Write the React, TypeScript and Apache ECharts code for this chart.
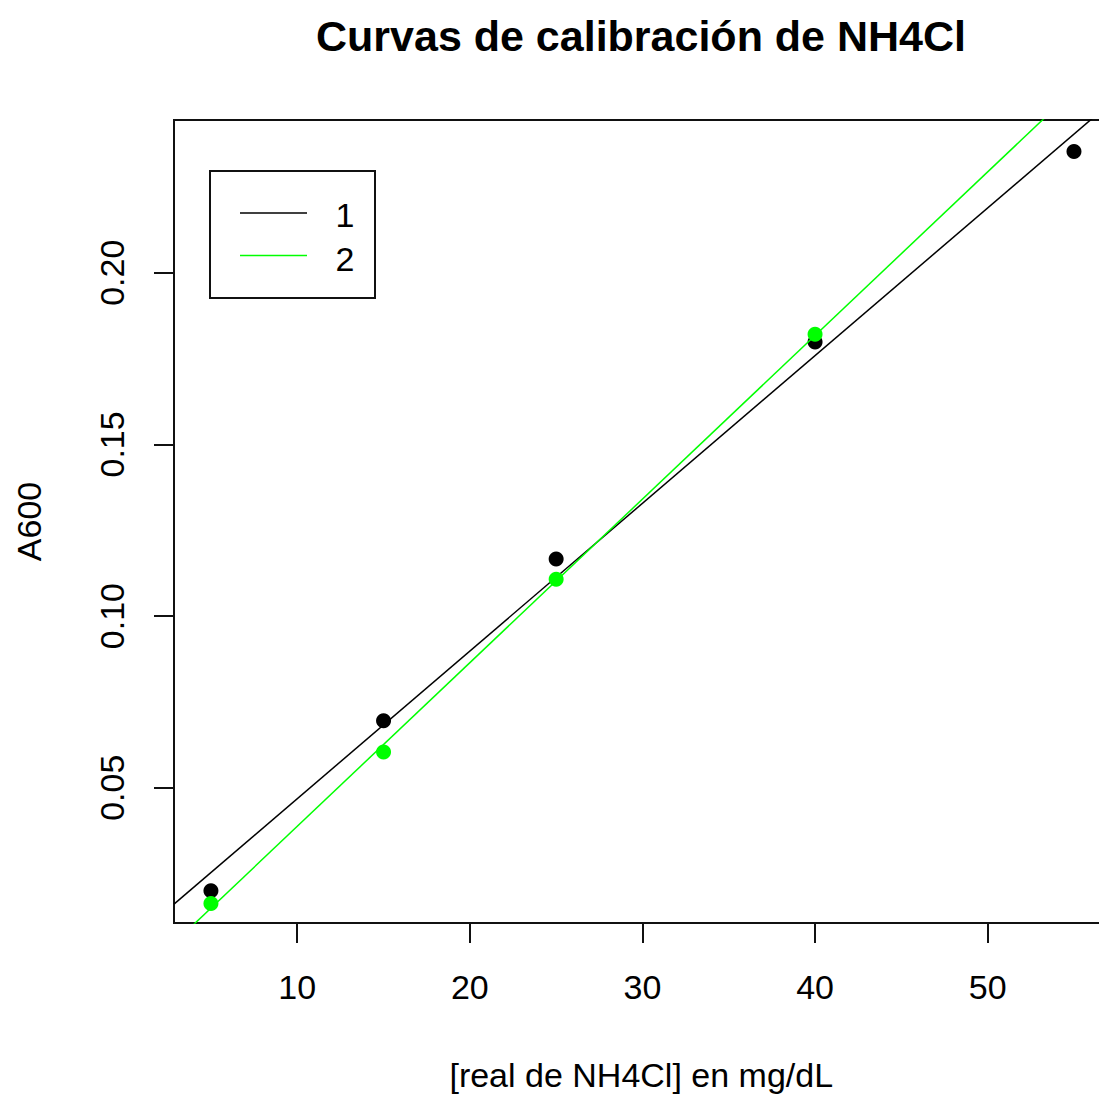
import React, { useEffect, useRef } from "react";
import * as echarts from "echarts";

const TITLE = "Curvas de calibración de NH4Cl";
const X_NAME = "[real de NH4Cl] en mg/dL";
const Y_NAME = "A600";

const xValues1 = [5, 15, 25, 40, 55];
const yValues1 = [0.02, 0.0695, 0.1166, 0.1798, 0.2353];
const xValues2 = [5, 15, 25, 40];
const yValues2 = [0.0163, 0.0604, 0.1107, 0.1821];

const xTicks = [10, 20, 30, 40, 50];
const yTicks = [0.05, 0.1, 0.15, 0.2];
const legendLabels = ["1", "2"];

const X_MIN = 2.86;
const X_MAX = 57;
const Y_MIN = 0.0106;
const Y_MAX = 0.2445;

const BLACK = "#000000";
const GREEN = "#00FF00";
const FONT = "Liberation Sans, Arial, sans-serif";

function fit(xs: number[], ys: number[]) {
  const n = xs.length;
  const mx = xs.reduce((a, b) => a + b, 0) / n;
  const my = ys.reduce((a, b) => a + b, 0) / n;
  let sxy = 0;
  let sxx = 0;
  for (let i = 0; i < n; i++) {
    sxy += (xs[i] - mx) * (ys[i] - my);
    sxx += (xs[i] - mx) * (xs[i] - mx);
  }
  const b = sxy / sxx;
  const a = my - b * mx;
  return [
    [X_MIN, a + b * X_MIN],
    [X_MAX, a + b * X_MAX],
  ];
}

export default function App() {
  const ref = useRef<HTMLDivElement>(null);
  useEffect(() => {
    if (!ref.current) return;
    const chart = echarts.init(ref.current, null, { renderer: "svg" });
    const pts1 = xValues1.map((x, i) => [x, yValues1[i]]);
    const pts2 = xValues2.map((x, i) => [x, yValues2[i]]);
    chart.setOption({
      animation: false,
      backgroundColor: "#ffffff",
      textStyle: { fontFamily: FONT },
      title: {
        text: TITLE,
        left: 311,
        top: 9,
        textStyle: { fontFamily: FONT, fontWeight: "bold", fontSize: 43, color: "#000" },
      },
      grid: {
        left: 174,
        top: 120,
        width: 934.5,
        height: 805.7,
        show: true,
        borderColor: "#111",
        borderWidth: 2,
        backgroundColor: "transparent",
        containLabel: false,
      },
      xAxis: {
        type: "value",
        min: X_MIN,
        max: X_MAX,
        name: X_NAME,
        nameLocation: "middle",
        nameGap: 135,
        nameTextStyle: { fontFamily: FONT, fontSize: 34, color: "#000" },
        axisLine: { show: false },
        splitLine: { show: false },
        axisTick: {
          show: true,
          length: 20,
          customValues: xTicks,
          lineStyle: { color: "#111", width: 2 },
        },
        axisLabel: {
          customValues: xTicks,
          margin: 47,
          fontSize: 34,
          fontFamily: FONT,
          color: "#000",
          formatter: (v: number) => String(v),
        },
      },
      yAxis: {
        type: "value",
        min: Y_MIN,
        max: Y_MAX,
        name: Y_NAME,
        nameLocation: "middle",
        nameRotate: 90,
        nameGap: 128,
        nameTextStyle: { fontFamily: FONT, fontSize: 34, color: "#000" },
        axisLine: { show: false },
        splitLine: { show: false },
        axisTick: {
          show: true,
          length: 20,
          customValues: yTicks,
          lineStyle: { color: "#111", width: 2 },
        },
        axisLabel: {
          customValues: yTicks,
          rotate: 90,
          margin: 45,
          fontSize: 34,
          fontFamily: FONT,
          color: "#000",
          formatter: (v: number) => v.toFixed(2),
        },
      },
      series: [
        {
          name: "1",
          type: "scatter",
          data: pts1,
          symbol: "circle",
          symbolSize: 15,
          itemStyle: { color: BLACK, opacity: 1 },
          z: 2,
        },
        {
          name: "fit1",
          type: "line",
          data: fit(xValues1, yValues1),
          showSymbol: false,
          clip: true,
          lineStyle: { color: BLACK, width: 1.5 },
          z: 3,
        },
        {
          name: "2",
          type: "scatter",
          data: pts2,
          symbol: "circle",
          symbolSize: 15,
          itemStyle: { color: GREEN, opacity: 1 },
          z: 4,
        },
        {
          name: "fit2",
          type: "line",
          data: fit(xValues2, yValues2),
          showSymbol: false,
          clip: true,
          lineStyle: { color: GREEN, width: 1.5 },
          z: 5,
        },
      ],
      graphic: [
        {
          type: "rect",
          shape: { x: 210, y: 171, width: 165, height: 127 },
          style: { fill: "#ffffff", stroke: "#111", lineWidth: 2 },
          z: 10,
        },
        {
          type: "line",
          shape: { x1: 240, y1: 213, x2: 307, y2: 213 },
          style: { stroke: BLACK, lineWidth: 1.5 },
          z: 11,
        },
        {
          type: "line",
          shape: { x1: 240, y1: 255.5, x2: 307, y2: 255.5 },
          style: { stroke: GREEN, lineWidth: 1.5 },
          z: 11,
        },
        {
          type: "text",
          x: 345,
          y: 215,
          style: {
            text: legendLabels[0],
            fontSize: 34,
            fontFamily: FONT,
            fill: "#000",
            align: "center",
            verticalAlign: "middle",
          },
          z: 11,
        },
        {
          type: "text",
          x: 345,
          y: 259,
          style: {
            text: legendLabels[1],
            fontSize: 34,
            fontFamily: FONT,
            fill: "#000",
            align: "center",
            verticalAlign: "middle",
          },
          z: 11,
        },
      ],
    });
    return () => chart.dispose();
  }, []);
  return (
    <div
      style={{
        position: "absolute",
        left: 0,
        top: 0,
        width: 1099,
        height: 1097,
        overflow: "hidden",
        background: "#ffffff",
      }}
    >
      <div ref={ref} style={{ width: 1130, height: 1097 }} />
    </div>
  );
}
